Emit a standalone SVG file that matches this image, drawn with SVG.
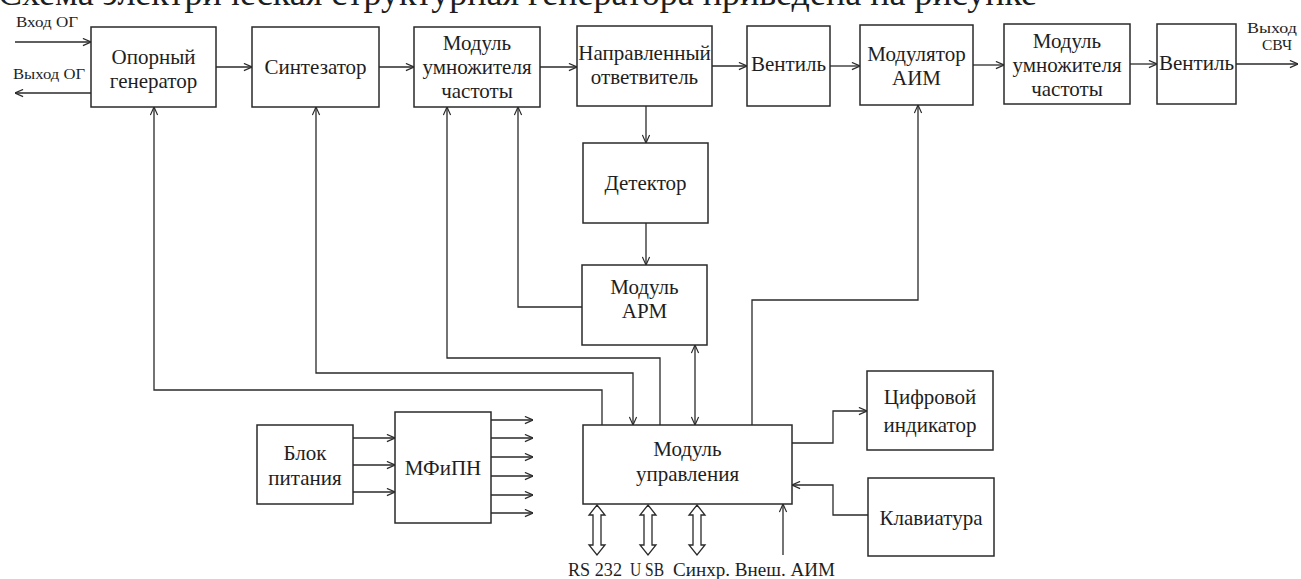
<svg xmlns="http://www.w3.org/2000/svg" width="1301" height="579" viewBox="0 0 1301 579">
<defs>
<marker id="ah" viewBox="0 0 10 10" refX="10" refY="5" markerWidth="9" markerHeight="9" orient="auto-start-reverse" markerUnits="userSpaceOnUse">
<path d="M1,1 L10,5 L1,9" fill="none" stroke="#2a2a2a" stroke-width="1.3"/>
</marker>
<path id="dbl" d="M0,0 L8,10 L4,10 L4,40 L8,40 L0,50 L-8,40 L-4,40 L-4,10 L-8,10 Z" fill="#fff" stroke="#2a2a2a" stroke-width="1.3"/>
</defs>
<rect width="1301" height="579" fill="#fff"/>
<text x="-2" y="5" font-family="Liberation Serif" font-size="36" fill="#1e1e1e">Схема электрическая структурная генератора приведена на рисунке</text>

<g id="connectors" fill="none" stroke="#2a2a2a" stroke-width="1.3" marker-end="url(#ah)">
<path d="M15,42 H91"/>
<path d="M91,93 H15"/>
<path d="M216,67 H252"/>
<path d="M379,67 H414"/>
<path d="M540,67 H577"/>
<path d="M712,66 H747"/>
<path d="M830,66 H860"/>
<path d="M973,65 H1004"/>
<path d="M1130,64 H1157"/>
<path d="M1236,64 H1298"/>
<path d="M602,425 V390 H154 V107"/>
<path d="M316,107 V373 H633 V425" marker-start="url(#ah)"/>
<path d="M660,425 V358 H447 V107"/>
<path d="M582,307 H518 V107"/>
<path d="M646,106 V143"/>
<path d="M646,223 V265"/>
<path d="M695,345 V425" marker-start="url(#ah)"/>
<path d="M752,425 V300 H918 V105"/>
<path d="M792,443 H833 V411 H867"/>
<path d="M868,515 H833 V485 H792"/>
<path d="M353,438 H395"/>
<path d="M353,465 H395"/>
<path d="M353,492 H395"/>
<path d="M491,420 H533"/>
<path d="M491,438 H533"/>
<path d="M491,457 H533"/>
<path d="M491,476 H533"/>
<path d="M491,495 H533"/>
<path d="M491,513 H533"/>
<path d="M783,555 V504"/>
<use href="#dbl" x="597" y="505" marker-end="none"/>
<use href="#dbl" x="648" y="505" marker-end="none"/>
<use href="#dbl" x="697" y="505" marker-end="none"/>
</g>

<g id="labels" fill="#1e1e1e">
<text x="16" y="27" font-family="Liberation Serif" font-size="15" textLength="62" lengthAdjust="spacingAndGlyphs">Вход ОГ</text>
<text x="13" y="79" font-family="Liberation Serif" font-size="15" textLength="72" lengthAdjust="spacingAndGlyphs">Выход ОГ</text>
<text x="1247" y="33" font-family="Liberation Serif" font-size="15" textLength="50" lengthAdjust="spacingAndGlyphs">Выход</text>
<text x="1262" y="50" font-family="Liberation Serif" font-size="15" textLength="30" lengthAdjust="spacingAndGlyphs">СВЧ</text>
<text x="568" y="576" font-family="Liberation Serif" font-size="18" textLength="54" lengthAdjust="spacingAndGlyphs">RS 232</text>
<text x="630" y="576" font-family="Liberation Serif" font-size="18" textLength="34" lengthAdjust="spacingAndGlyphs">U SB</text>
<text x="673" y="576" font-family="Liberation Serif" font-size="18" textLength="162" lengthAdjust="spacingAndGlyphs">Синхр. Внеш. АИМ</text>
</g>

<g id="nodes" fill="#fff" stroke="#2a2a2a" stroke-width="1.5">
<g id="n-opgen"><rect x="91" y="27" width="125" height="80"/></g>
<g id="n-synth"><rect x="252" y="27" width="127" height="80"/></g>
<g id="n-mult1"><rect x="414" y="27" width="126" height="80"/></g>
<g id="n-coupler"><rect x="577" y="26" width="135" height="80"/></g>
<g id="n-valve1"><rect x="747" y="26" width="83" height="80"/></g>
<g id="n-modulator"><rect x="860" y="25" width="113" height="80"/></g>
<g id="n-mult2"><rect x="1004" y="24" width="126" height="80"/></g>
<g id="n-valve2"><rect x="1157" y="24" width="79" height="80"/></g>
<g id="n-detector"><rect x="583" y="143" width="125" height="80"/></g>
<g id="n-apm"><rect x="582" y="265" width="125" height="80"/></g>
<g id="n-control"><rect x="583" y="425" width="209" height="79"/></g>
<g id="n-indicator"><rect x="867" y="371" width="126" height="79"/></g>
<g id="n-keyboard"><rect x="868" y="478" width="126" height="78"/></g>
<g id="n-power"><rect x="257" y="425" width="96" height="79"/></g>
<g id="n-mfipn"><rect x="395" y="412" width="96" height="111"/></g>
</g>

<g id="node-texts" fill="#1e1e1e" text-anchor="middle">
<text x="153.5" y="64" font-family="Liberation Serif" font-size="21">Опорный</text>
<text x="153.5" y="88" font-family="Liberation Serif" font-size="21">генератор</text>
<text x="315.5" y="74" font-family="Liberation Serif" font-size="21">Синтезатор</text>
<text x="477" y="50" font-family="Liberation Serif" font-size="21">Модуль</text>
<text x="477" y="74" font-family="Liberation Serif" font-size="21">умножителя</text>
<text x="477" y="98" font-family="Liberation Serif" font-size="21">частоты</text>
<text x="644.5" y="60" font-family="Liberation Serif" font-size="21">Направленный</text>
<text x="644.5" y="84" font-family="Liberation Serif" font-size="21">ответвитель</text>
<text x="788.5" y="71" font-family="Liberation Serif" font-size="21">Вентиль</text>
<text x="916.5" y="61" font-family="Liberation Serif" font-size="21">Модулятор</text>
<text x="916.5" y="85" font-family="Liberation Serif" font-size="21">АИМ</text>
<text x="1067" y="48" font-family="Liberation Serif" font-size="21">Модуль</text>
<text x="1067" y="72" font-family="Liberation Serif" font-size="21">умножителя</text>
<text x="1067" y="96" font-family="Liberation Serif" font-size="21">частоты</text>
<text x="1196.5" y="70" font-family="Liberation Serif" font-size="21">Вентиль</text>
<text x="645.5" y="190" font-family="Liberation Serif" font-size="21">Детектор</text>
<text x="644.5" y="294" font-family="Liberation Serif" font-size="21">Модуль</text>
<text x="644.5" y="318" font-family="Liberation Serif" font-size="21">АРМ</text>
<text x="687.5" y="456" font-family="Liberation Serif" font-size="21">Модуль</text>
<text x="687.5" y="481" font-family="Liberation Serif" font-size="21">управления</text>
<text x="930" y="404" font-family="Liberation Serif" font-size="21">Цифровой</text>
<text x="930" y="432" font-family="Liberation Serif" font-size="21">индикатор</text>
<text x="931" y="525" font-family="Liberation Serif" font-size="21">Клавиатура</text>
<text x="305" y="460" font-family="Liberation Serif" font-size="21">Блок</text>
<text x="305" y="485" font-family="Liberation Serif" font-size="21">питания</text>
<text x="443" y="475" font-family="Liberation Serif" font-size="21">МФиПН</text>
</g>
</svg>
